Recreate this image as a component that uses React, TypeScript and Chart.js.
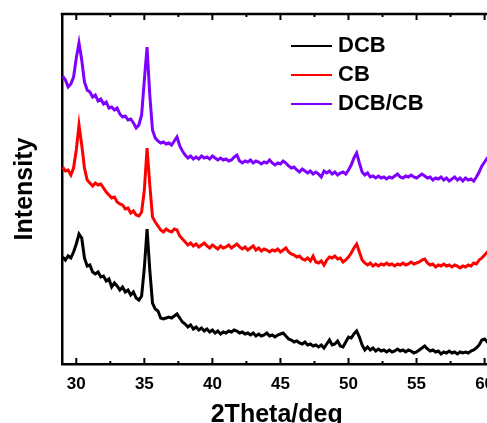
import React, { useEffect, useRef } from "react";
import { Chart, registerables } from "chart.js";
Chart.register(...registerables);

// 2θ (degrees)
const twoTheta = [
  29.0, 29.2, 29.4, 29.6, 29.8,
  30.0, 30.2, 30.4, 30.6, 30.8,
  31.0, 31.2, 31.4, 31.6, 31.8,
  32.0, 32.2, 32.4, 32.6, 32.8,
  33.0, 33.2, 33.4, 33.6, 33.8,
  34.0, 34.2, 34.4, 34.6, 34.8,
  35.0, 35.2, 35.4, 35.6, 35.8,
  36.0, 36.2, 36.4, 36.6, 36.8,
  37.0, 37.2, 37.4, 37.6, 37.8,
  38.0, 38.2, 38.4, 38.6, 38.8,
  39.0, 39.2, 39.4, 39.6, 39.8,
  40.0, 40.2, 40.4, 40.6, 40.8,
  41.0, 41.2, 41.4, 41.6, 41.8,
  42.0, 42.2, 42.4, 42.6, 42.8,
  43.0, 43.2, 43.4, 43.6, 43.8,
  44.0, 44.2, 44.4, 44.6, 44.8,
  45.0, 45.2, 45.4, 45.6, 45.8,
  46.0, 46.2, 46.4, 46.6, 46.8,
  47.0, 47.2, 47.4, 47.6, 47.8,
  48.0, 48.2, 48.4, 48.6, 48.8,
  49.0, 49.2, 49.4, 49.6, 49.8,
  50.0, 50.2, 50.4, 50.6, 50.8,
  51.0, 51.2, 51.4, 51.6, 51.8,
  52.0, 52.2, 52.4, 52.6, 52.8,
  53.0, 53.2, 53.4, 53.6, 53.8,
  54.0, 54.2, 54.4, 54.6, 54.8,
  55.0, 55.2, 55.4, 55.6, 55.8,
  56.0, 56.2, 56.4, 56.6, 56.8,
  57.0, 57.2, 57.4, 57.6, 57.8,
  58.0, 58.2, 58.4, 58.6, 58.8,
  59.0, 59.2, 59.4, 59.6, 59.8,
  60.0, 60.2, 60.4,
];

// Intensity (arbitrary units, stacked with offsets)
const dcb = [
  107, 104, 108, 106, 112,
  120, 130, 126, 106, 98,
  99, 92, 90, 92, 87,
  88, 83, 85, 77, 81,
  78, 74, 77, 72, 74,
  69, 72, 66, 64, 68,
  96, 135, 94, 61, 55,
  53, 46, 45, 46, 47,
  46, 48, 50, 46, 42,
  40, 37, 39, 35, 37,
  34, 36, 33, 35, 32,
  34, 31, 33, 30, 32,
  31, 33, 32, 34, 33,
  31, 32, 30, 31, 29,
  31, 28, 30, 28, 29,
  31, 28, 29, 27, 29,
  30, 31, 28, 25, 24,
  22, 23, 21, 20, 22,
  19, 20, 18, 19, 17,
  19, 16, 20, 24, 19,
  20, 23, 18, 17, 22,
  27, 26, 30, 33, 27,
  19, 14, 17, 14, 16,
  13, 15, 13, 14, 12,
  14, 12, 13, 15, 13,
  14, 12, 14, 13, 11,
  12, 14, 16, 18, 15,
  13, 14, 12, 13, 10,
  12, 11, 13, 11, 12,
  10, 12, 11, 12, 11,
  13, 14, 16, 19, 24,
  25, 22, 24,
];

const cb = [
  197, 193, 194, 189, 196,
  214, 239, 219, 196, 184,
  181, 178, 181, 179, 180,
  176, 172, 169, 166, 167,
  162, 160, 159, 155, 156,
  151, 153, 149, 148, 152,
  174, 216, 179, 147, 142,
  138, 134, 132, 135, 133,
  132, 135, 134, 128, 125,
  122, 119, 121, 118, 120,
  117, 119, 121, 118, 116,
  119, 117, 115, 118, 116,
  117, 119, 116, 118, 120,
  117, 115, 117, 114, 116,
  118, 114, 116, 113, 115,
  114, 112, 114, 113, 115,
  112, 114, 116, 112, 110,
  109, 107, 108, 105, 104,
  106, 103, 108, 102, 101,
  103, 99, 104, 107, 106,
  108, 105, 106, 102, 104,
  107, 111, 116, 120, 112,
  104, 101, 99, 101, 98,
  100, 98, 100, 99, 101,
  99, 100, 98, 100, 99,
  101, 99, 100, 102, 100,
  101, 102, 104, 105, 101,
  99, 100, 97, 99, 98,
  100, 98, 99, 97, 99,
  98, 96, 98, 97, 99,
  98, 101, 100, 104, 106,
  109, 112, 113,
];

const dcbCb = [
  288, 284, 277, 280, 287,
  306, 321, 304, 282, 274,
  272, 267, 269, 263, 265,
  260, 262, 256, 257, 254,
  256, 250, 247, 248, 244,
  245, 241, 236, 239, 249,
  284, 317, 269, 234, 226,
  223, 221, 222, 220, 221,
  219, 223, 227, 218, 213,
  209, 206, 208, 205, 207,
  205, 208, 206, 207, 205,
  208, 206, 204, 206, 204,
  205, 203, 204, 207, 209,
  203, 201, 203, 202, 204,
  201, 203, 202, 200, 202,
  201, 204, 201, 199, 201,
  200, 203, 201, 198, 196,
  197, 194, 192, 195, 193,
  191, 193, 190, 192, 190,
  187, 193, 191, 193, 190,
  192, 189, 191, 192, 190,
  194, 199, 206, 211, 201,
  192, 189, 191, 187, 188,
  186, 188, 186, 187, 185,
  187, 186, 188, 190, 187,
  186, 188, 187, 189, 187,
  186, 188, 190, 188, 186,
  187, 184, 186, 185, 187,
  184, 186, 183, 185, 187,
  184, 186, 183, 186, 184,
  185, 183, 187, 192, 198,
  202, 206, 207,
];

const seriesLabels = ["DCB", "CB", "DCB/CB"];
const seriesColors = ["#000000", "#FF0000", "#8000FF"];
const majorTicks = [30, 35, 40, 45, 50, 55, 60];
const minorTicks = [32.5, 37.5, 42.5, 47.5, 52.5, 57.5];

const FONT = "Arial, 'Liberation Sans', Helvetica, sans-serif";

export default function App() {
  const ref = useRef<HTMLCanvasElement>(null);

  useEffect(() => {
    const canvas = ref.current;
    if (!canvas) return;

    const framePlugin = {
      id: "frame",
      afterDraw(chart: any) {
        const { ctx, chartArea: a, scales } = chart;
        const xs = scales.x;
        ctx.save();
        ctx.strokeStyle = "#000";
        ctx.lineWidth = 2.5;
        ctx.beginPath();
        ctx.moveTo(a.left - 1.25, a.top);
        ctx.lineTo(a.right + 1.25, a.top);
        ctx.moveTo(a.right, a.top);
        ctx.lineTo(a.right, a.bottom);
        ctx.stroke();
        ctx.lineWidth = 2;
        ctx.beginPath();
        const drawTick = (v: number, len: number) => {
          const px = xs.getPixelForValue(v);
          ctx.moveTo(px, a.bottom);
          ctx.lineTo(px, a.bottom - len);
          ctx.moveTo(px, a.top);
          ctx.lineTo(px, a.top + len);
        };
        majorTicks.forEach((v) => drawTick(v, 6));
        minorTicks.forEach((v) => drawTick(v, 3));
        ctx.stroke();
        ctx.restore();
      },
    };

    const legendPlugin = {
      id: "customLegend",
      afterDraw(chart: any) {
        const { ctx } = chart;
        ctx.save();
        chart.data.datasets.forEach((ds: any, i: number) => {
          const y = 46 + i * 29;
          ctx.strokeStyle = ds.borderColor;
          ctx.lineWidth = 2;
          ctx.beginPath();
          ctx.moveTo(291, y);
          ctx.lineTo(332, y);
          ctx.stroke();
          ctx.fillStyle = "#000";
          ctx.font = `bold 22px ${FONT}`;
          ctx.textBaseline = "middle";
          ctx.textAlign = "left";
          ctx.fillText(ds.label, 338, y);
        });
        ctx.restore();
      },
    };

    const series = [dcb, cb, dcbCb];
    const chart = new Chart(canvas, {
      type: "line",
      data: {
        datasets: series.map((vals, i) => ({
          label: seriesLabels[i],
          data: twoTheta.map((x, j) => ({ x, y: vals[j] })),
          borderColor: seriesColors[i],
          backgroundColor: seriesColors[i],
          borderWidth: 3,
          pointRadius: 0,
          tension: 0,
          fill: false,
        })),
      },
      options: {
        responsive: false,
        animation: false,
        devicePixelRatio: 1,
        layout: { padding: { left: 0, top: 14, right: 18.6, bottom: 0 } },
        plugins: {
          legend: { display: false },
          tooltip: { enabled: false },
        },
        scales: {
          x: {
            type: "linear",
            min: 28.95,
            max: 60.5,
            grid: { display: false, drawTicks: false },
            border: { display: true, color: "#000", width: 2.5 },
            ticks: {
              color: "#000",
              font: { family: FONT, size: 17, weight: "bold" },
              padding: 10,
              maxRotation: 0,
              autoSkip: false,
            },
            afterBuildTicks: (s: any) => {
              s.ticks = majorTicks.map((v) => ({ value: v }));
            },
            afterFit: (s: any) => {
              s.height = 76;
            },
            title: {
              display: true,
              text: "2Theta/deg",
              color: "#000",
              font: { family: FONT, size: 25, weight: "bold" },
              padding: { top: 0, bottom: 10 },
            },
          },
          y: {
            type: "linear",
            min: 0,
            max: 350,
            grid: { display: false, drawTicks: false },
            border: { display: true, color: "#000", width: 2.5 },
            ticks: { display: false },
            afterFit: (s: any) => {
              s.width = 62;
            },
            title: {
              display: true,
              text: "Intensity",
              color: "#000",
              font: { family: FONT, size: 25, weight: "bold" },
              padding: { top: 10, bottom: 0 },
            },
          },
        },
      } as any,
      plugins: [framePlugin, legendPlugin],
    });

    return () => chart.destroy();
  }, []);

  return (
    <div
      style={{
        position: "fixed",
        left: 0,
        top: 0,
        width: 487,
        height: 423,
        overflow: "hidden",
        background: "#fff",
      }}
    >
      <canvas ref={ref} width={510} height={440} style={{ display: "block" }} />
    </div>
  );
}
